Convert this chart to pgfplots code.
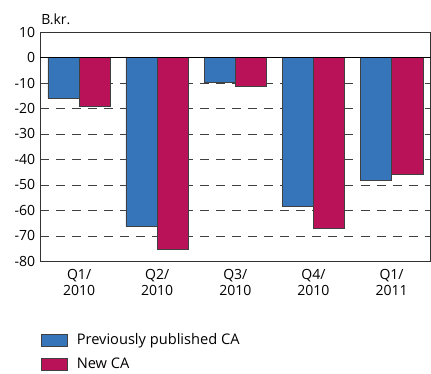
\documentclass[border=0pt]{standalone}
\usepackage{pgfplots}
\pgfplotsset{compat=1.18}
\usepackage{fontspec}
\setmainfont{Open Sans}
\definecolor{prevblue}{HTML}{3775BA}
\definecolor{newpink}{HTML}{BA1259}
\begin{document}
\fontsize{14}{16}\selectfont
\begin{tikzpicture}
\begin{axis}[
    name=ax,
    scale only axis,
    width=390pt, height=229pt,
    ybar=0pt, bar width=31.2pt,
    xmin=-0.5, xmax=4.5,
    ymin=-80, ymax=10,
    xtick={0,1,2,3,4},
    xticklabels={Q1/\\2010, Q2/\\2010, Q3/\\2010, Q4/\\2010, Q1/\\2011},
    xticklabel style={align=center, font=\fontsize{14}{16}\selectfont, yshift=1pt},
    x tick style={draw=none},
    extra x ticks={-0.5,0.5,1.5,2.5,3.5,4.5},
    extra x tick labels={},
    extra x tick style={tick style={draw=black!80, line width=0.6pt}, major tick length=5pt, xtick align=outside, grid=none},
    ytick={-80,-70,...,10},
    yticklabels={-80,-70,-60,-50,-40,-30,-20,-10,0,10},
    y tick style={draw=none},
    yticklabel style={font=\fontsize{14}{16}\selectfont},
    ymajorgrids,
    major grid style={dashed, dash pattern=on 9pt off 7pt, black!75, line width=0.6pt},
    axis line style={black!80, line width=0.8pt},
    legend style={at={(rel axis cs:0,0)}, anchor=north west, yshift=-68pt, xshift=-2pt,
        draw=none, fill=none, row sep=7pt, font=\fontsize{14.6}{16}\selectfont},
    legend cell align=left,
    legend image code/.code={\draw[#1] (0pt,-6pt) rectangle (26pt,6pt); \path (33pt,0pt);},
]
\addplot[fill=prevblue, draw=black!75, line width=0.5pt] coordinates {
    (0,-15.8) (1,-66.4) (2,-9.8) (3,-58.4) (4,-48.2)};
\addlegendentry{Previously published CA}
\addplot[fill=newpink, draw=black!75, line width=0.5pt] coordinates {
    (0,-19.2) (1,-75.2) (2,-11.2) (3,-67.0) (4,-46.0)};
\addlegendentry{New CA}
\draw[black, line width=0.8pt] (axis cs:-0.5,0) -- (axis cs:4.5,0);
\end{axis}
\node[anchor=south west, inner sep=0pt, yshift=7pt, xshift=1pt] at (ax.north west) {B.kr.};
\pgfresetboundingbox
\path[use as bounding box] (ax.north west) ++(-40pt,32pt) rectangle ([yshift=-112pt, xshift=0.4pt]ax.south east);
\end{tikzpicture}
\end{document}
